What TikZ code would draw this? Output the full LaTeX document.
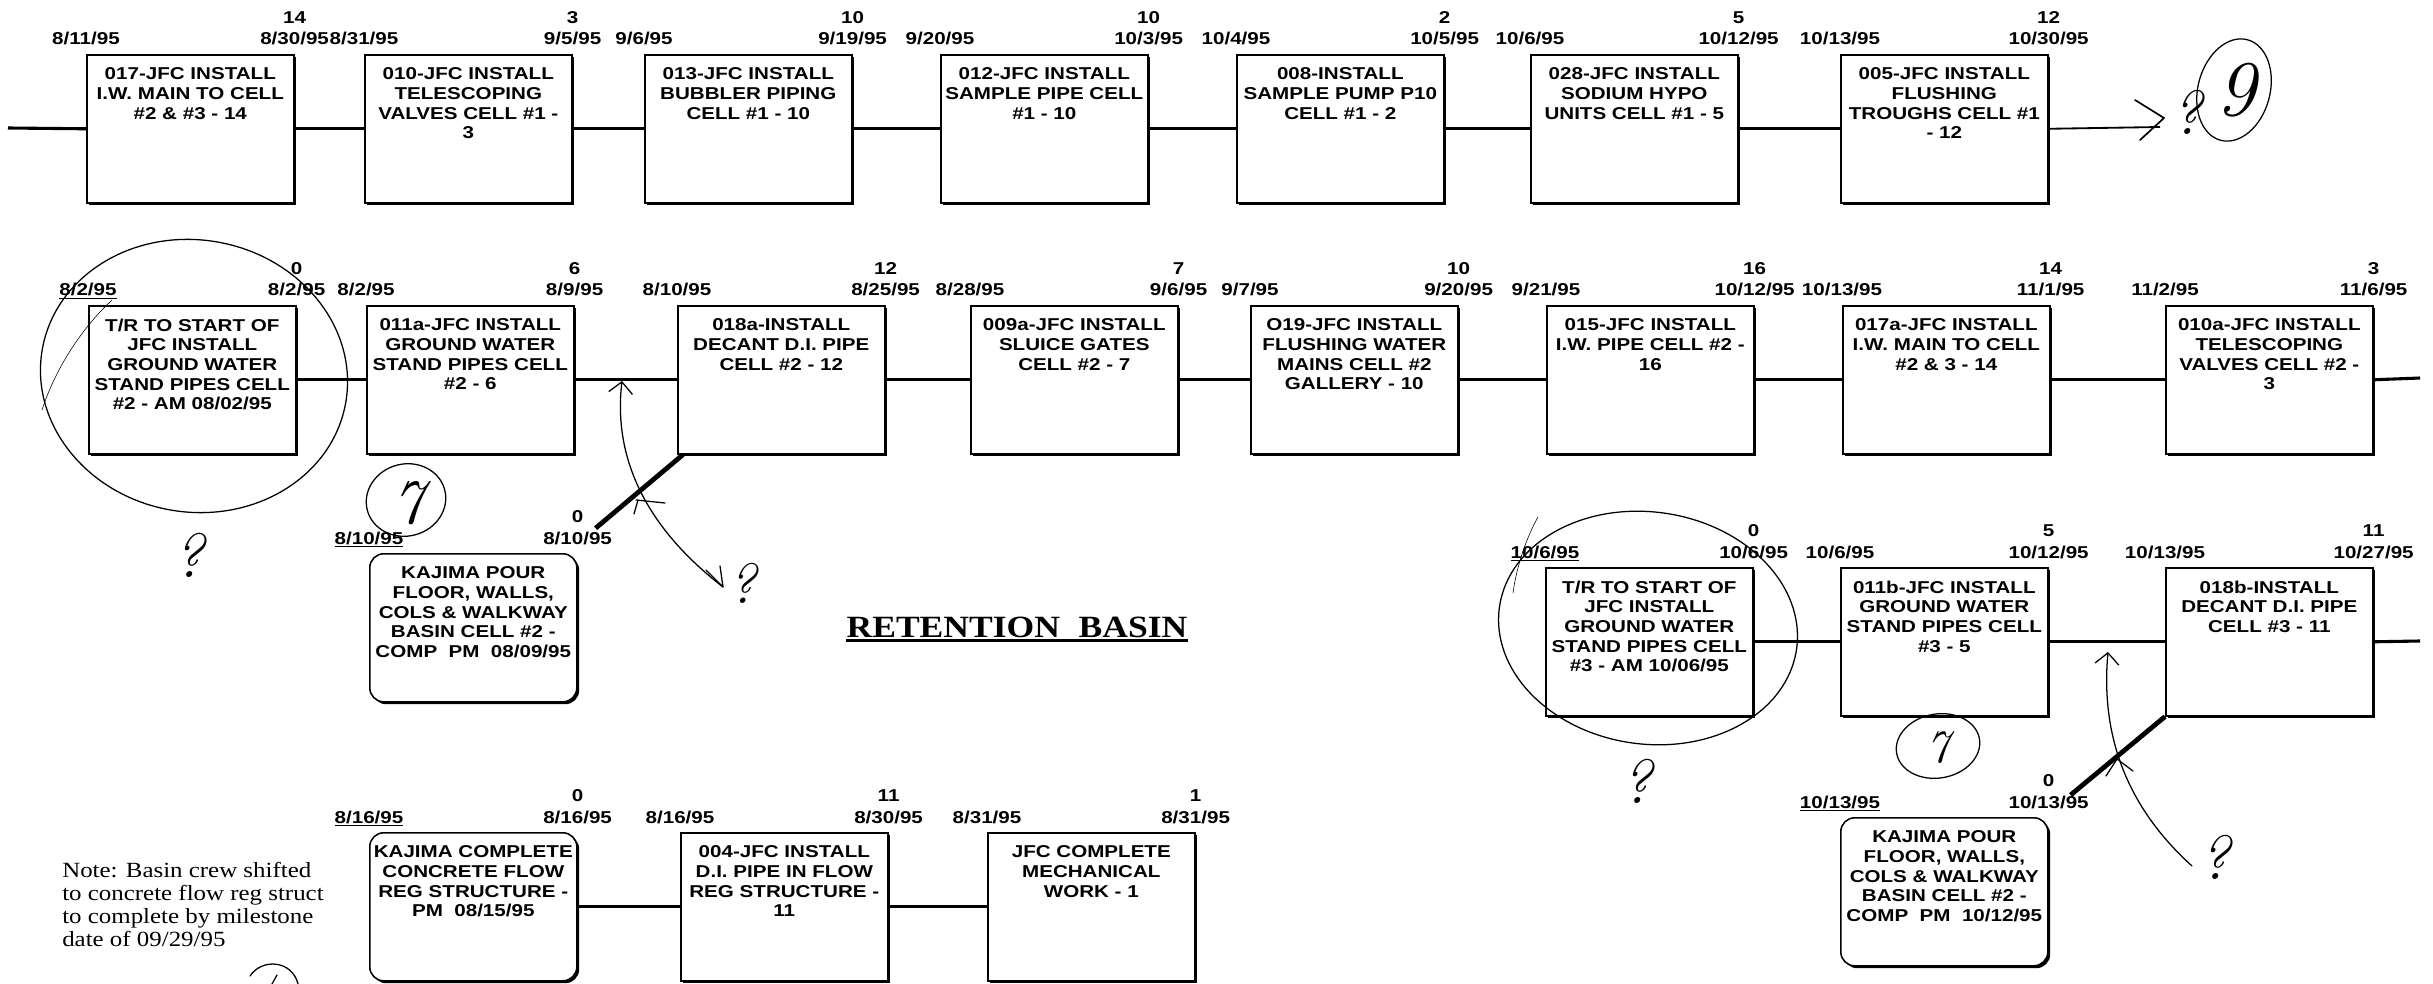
\documentclass[tikz,border=0pt]{standalone}
\usepackage{fontspec}
\usepackage{graphicx}
\usepackage{tikz}
\usetikzlibrary{shadows,arrows.meta}
\newfontfamily\netfont{Liberation Sans}
\newfontfamily\serffont[FakeStretch=1.15,BoldFeatures={FakeStretch=1.15}]{Liberation Serif}
\tikzset{
  actbox/.style={draw, line width=1.1pt, fill=white, inner sep=0pt, anchor=north west,
    drop shadow={shadow xshift=1.7pt, shadow yshift=-1.7pt, opacity=1, fill=black},
    font=\netfont\bfseries\fontsize{12.2}{13.9}\selectfont},
  pourbox/.style={actbox, rounded corners=0.35cm},
  datelbl/.style={anchor=base, inner sep=0pt, font=\netfont\bfseries\fontsize{12.2}{13.9}\selectfont},
  link/.style={line width=2.2pt},
  feed/.style={line width=3.4pt},
  hand/.style={line width=0.9pt, line cap=round, line join=round},
  handtip/.style={{Straight Barb[length=8pt,width=17pt]}-},
  scrib/.style={font=\fontsize{#1}{#1}\selectfont\itshape, inner sep=0pt},
  scrib/.default=44,
  ttl/.style={anchor=base, inner sep=0pt, font=\serffont\bfseries\fontsize{22}{24}\selectfont},
  note/.style={anchor=north west, inner sep=0pt, align=left, font=\serffont\fontsize{15.4}{16.4}\selectfont},
}
% box text sits at the top of the box, printed a bit wide
\newcommand{\acttext}[1]{\scalebox{1.2}[1]{\parbox[c][3.7cm][t]{4.3125cm}{\centering\vspace*{0.33cm}#1}}}
% early start, early finish and duration over a box
\newcommand{\acttimes}[4]{%
  \node[datelbl] (#1s) at ([yshift=0.225cm]#1.north west) {\scalebox{1.2}[1]{#2}};
  \node[datelbl] (#1e) at ([yshift=0.225cm]#1.north east) {\scalebox{1.2}[1]{#3}};
  \node[datelbl] (#1d) at ([yshift=0.75cm]#1.north east) {\scalebox{1.2}[1]{#4}};}

\begin{document}
\begin{tikzpicture}[x=0.025cm, y=-0.025cm]
  \useasboundingbox (0,0) rectangle (2433,984);

  % cell #1 chain
  \node[actbox] (a017) at (86,54)   {\acttext{017-JFC INSTALL\\I.W. MAIN TO CELL\\\#2 \& \#3 - 14}};
  \node[actbox] (a010) at (364,54)  {\acttext{010-JFC INSTALL\\TELESCOPING\\VALVES CELL \#1 -\\3}};
  \node[actbox] (a013) at (644,54)  {\acttext{013-JFC INSTALL\\BUBBLER PIPING\\CELL \#1 - 10}};
  \node[actbox] (a012) at (940,54)  {\acttext{012-JFC INSTALL\\SAMPLE PIPE CELL\\\#1 - 10}};
  \node[actbox] (a008) at (1236,54) {\acttext{008-INSTALL\\SAMPLE PUMP P10\\CELL \#1 - 2}};
  \node[actbox] (a028) at (1530,54) {\acttext{028-JFC INSTALL\\SODIUM HYPO\\UNITS CELL \#1 - 5}};
  \node[actbox] (a005) at (1840,54) {\acttext{005-JFC INSTALL\\FLUSHING\\TROUGHS CELL \#1\\- 12}};
  \acttimes{a017}{8/11/95}{8/30/95}{14}
  \acttimes{a010}{8/31/95}{9/5/95}{3}
  \acttimes{a013}{9/6/95}{9/19/95}{10}
  \acttimes{a012}{9/20/95}{10/3/95}{10}
  \acttimes{a008}{10/4/95}{10/5/95}{2}
  \acttimes{a028}{10/6/95}{10/12/95}{5}
  \acttimes{a005}{10/13/95}{10/30/95}{12}
  \coordinate (r1in) at (8,128);
  \coordinate (r1out) at (2160,127);
  \draw[link] (r1in) -- (a017.west);
  \draw[link] (a017.east) -- (a010.west);
  \draw[link] (a010.east) -- (a013.west);
  \draw[link] (a013.east) -- (a012.west);
  \draw[link] (a012.east) -- (a008.west);
  \draw[link] (a008.east) -- (a028.west);
  \draw[link] (a028.east) -- (a005.west);
  \draw[line width=1.3pt] (a005.east) -- (r1out);

  % cell #2 chain
  \node[actbox] (tr2)   at (88,305)   {\acttext{T/R TO START OF\\JFC INSTALL\\GROUND WATER\\STAND PIPES CELL\\\#2 - AM 08/02/95}};
  \node[actbox] (a011a) at (366,305)  {\acttext{011a-JFC INSTALL\\GROUND WATER\\STAND PIPES CELL\\\#2 - 6}};
  \node[actbox] (a018a) at (677,305)  {\acttext{018a-INSTALL\\DECANT D.I. PIPE\\CELL \#2 - 12}};
  \node[actbox] (a009a) at (970,305)  {\acttext{009a-JFC INSTALL\\SLUICE GATES\\CELL \#2 - 7}};
  \node[actbox] (a019)  at (1250,305) {\acttext{O19-JFC INSTALL\\FLUSHING WATER\\MAINS CELL \#2\\GALLERY - 10}};
  \node[actbox] (a015)  at (1546,305) {\acttext{015-JFC INSTALL\\I.W. PIPE CELL \#2 -\\16}};
  \node[actbox] (a017a) at (1842,305) {\acttext{017a-JFC INSTALL\\I.W. MAIN TO CELL\\\#2 \& 3 - 14}};
  \node[actbox] (a010a) at (2165,305) {\acttext{010a-JFC INSTALL\\TELESCOPING\\VALVES CELL \#2 -\\3}};
  \node[pourbox] (kp2)  at (369,553)  {\acttext{KAJIMA POUR\\FLOOR, WALLS,\\COLS \& WALKWAY\\BASIN CELL \#2 -\\COMP\ \ PM\ \ 08/09/95}};
  \acttimes{tr2}{\underline{8/2/95}}{8/2/95}{0}
  \acttimes{a011a}{8/2/95}{8/9/95}{6}
  \acttimes{a018a}{8/10/95}{8/25/95}{12}
  \acttimes{a009a}{8/28/95}{9/6/95}{7}
  \acttimes{a019}{9/7/95}{9/20/95}{10}
  \acttimes{a015}{9/21/95}{10/12/95}{16}
  \acttimes{a017a}{10/13/95}{11/1/95}{14}
  \acttimes{a010a}{11/2/95}{11/6/95}{3}
  \acttimes{kp2}{\underline{8/10/95}}{8/10/95}{0}
  \coordinate (r2out) at (2420,378);
  \coordinate (kp2tip) at ([shift={(0.45cm,0.62cm)}]kp2.north east);
  \draw[link] (tr2.east) -- (a011a.west);
  \draw[link] (a011a.east) -- (a018a.west);
  \draw[link] (a018a.east) -- (a009a.west);
  \draw[link] (a009a.east) -- (a019.west);
  \draw[link] (a019.east) -- (a015.west);
  \draw[link] (a015.east) -- (a017a.west);
  \draw[link] (a017a.east) -- (a010a.west);
  \draw[link] (a010a.east) -- (r2out);
  \draw[feed] (kp2tip) -- ([xshift=0.15cm]a018a.south west);

  % cell #3 chain
  \node[actbox] (tr3)   at (1545,567) {\acttext{T/R TO START OF\\JFC INSTALL\\GROUND WATER\\STAND PIPES CELL\\\#3 - AM 10/06/95}};
  \node[actbox] (a011b) at (1840,567) {\acttext{011b-JFC INSTALL\\GROUND WATER\\STAND PIPES CELL\\\#3 - 5}};
  \node[actbox] (a018b) at (2165,567) {\acttext{018b-INSTALL\\DECANT D.I. PIPE\\CELL \#3 - 11}};
  \node[pourbox] (kp3)  at (1840,817) {\acttext{KAJIMA POUR\\FLOOR, WALLS,\\COLS \& WALKWAY\\BASIN CELL \#2 -\\COMP\ \ PM\ \ 10/12/95}};
  \acttimes{tr3}{\underline{10/6/95}}{10/6/95}{0}
  \acttimes{a011b}{10/6/95}{10/12/95}{5}
  \acttimes{a018b}{10/13/95}{10/27/95}{11}
  \acttimes{kp3}{\underline{10/13/95}}{10/13/95}{0}
  \coordinate (r3out) at (2420,641);
  \coordinate (kp3tip) at ([shift={(0.55cm,0.55cm)}]kp3.north east);
  \draw[link] (tr3.east) -- (a011b.west);
  \draw[link] (a011b.east) -- (a018b.west);
  \draw[link] (a018b.east) -- (r3out);
  \draw[feed] (kp3tip) -- (a018b.south west);

  % flow reg structure
  \node[pourbox] (kc)  at (369,832) {\acttext{KAJIMA COMPLETE\\CONCRETE FLOW\\REG STRUCTURE -\\PM\ \ 08/15/95}};
  \node[actbox] (a004) at (680,832) {\acttext{004-JFC INSTALL\\D.I. PIPE IN FLOW\\REG STRUCTURE -\\11}};
  \node[actbox] (jfc)  at (987,832) {\acttext{JFC COMPLETE\\MECHANICAL\\WORK - 1}};
  \acttimes{kc}{\underline{8/16/95}}{8/16/95}{0}
  \acttimes{a004}{8/16/95}{8/30/95}{11}
  \acttimes{jfc}{8/31/95}{8/31/95}{1}
  \draw[link] (kc.east) -- (a004.west);
  \draw[link] (a004.east) -- (jfc.west);

  \node[ttl] (ttl) at (1017,637) {RETENTION\hspace{0.6em}BASIN};
  \draw[line width=1.8pt] ([yshift=-2.6pt]ttl.base west) -- ([yshift=-2.6pt]ttl.base east);
  \node[note] (note) at (62,862) {Note: Basin crew shifted\\to concrete flow reg struct\\to complete by milestone\\date of 09/29/95};

  % pen marks
  \draw[hand, line width=1.2pt] (2135,100) -- (2164,118) -- (2140,140);
  \node[scrib] (q1) at (2187,112) {?};
  \draw[hand, rotate around={-15:(2234,90)}] (2234,90) ellipse [x radius=0.9cm, y radius=1.3cm];
  \node[scrib=56] (n9) at (2236,90) {9};

  \draw[hand, rotate around={-10:(194,376)}] (194,376) ellipse [x radius=3.85cm, y radius=3.4cm];
  \draw[hand, line width=0.4pt] (112,300) .. controls (80,330) and (55,370) .. (42,410);
  \node[scrib] (q2) at (189,555) {?};
  \draw[hand, rotate around={15:(406,500)}] (406,500) ellipse [x radius=1cm, y radius=0.9cm];
  \node[scrib=45] (n7a) at (408,503) {7};
  \draw[hand, handtip] (622,381) .. controls (615,440) and (630,515) .. (723,587);
  \draw[hand] (706,570) -- (723,587) -- (720,566);
  \draw[hand] (636,500) -- (665,503);
  \draw[hand] (638,500) -- (634,514);
  \node[scrib=40] (q3) at (743,583) {?};

  \draw[hand, rotate around={-8:(1648,628)}] (1648,628) ellipse [x radius=3.75cm, y radius=2.9cm];
  \draw[hand, line width=0.4pt] (1538,517) .. controls (1525,540) and (1516,570) .. (1513,593);
  \node[scrib] (q4) at (1637,781) {?};
  \draw[hand, rotate around={10:(1938,746)}] (1938,746) ellipse [x radius=1.05cm, y radius=0.8cm];
  \node[scrib=33] (n7b) at (1938,748) {7};
  \draw[hand, handtip] (2108,652) .. controls (2100,740) and (2130,810) .. (2192,866);
  \draw[hand] (2106,776) -- (2117,759) -- (2133,771);
  \node[scrib] (q5) at (2215,857) {?};

  \draw[hand] (250,976) .. controls (262,958) and (292,960) .. (298,984);
  \draw[hand] (272,984) -- (277,975);
\end{tikzpicture}
\end{document}
